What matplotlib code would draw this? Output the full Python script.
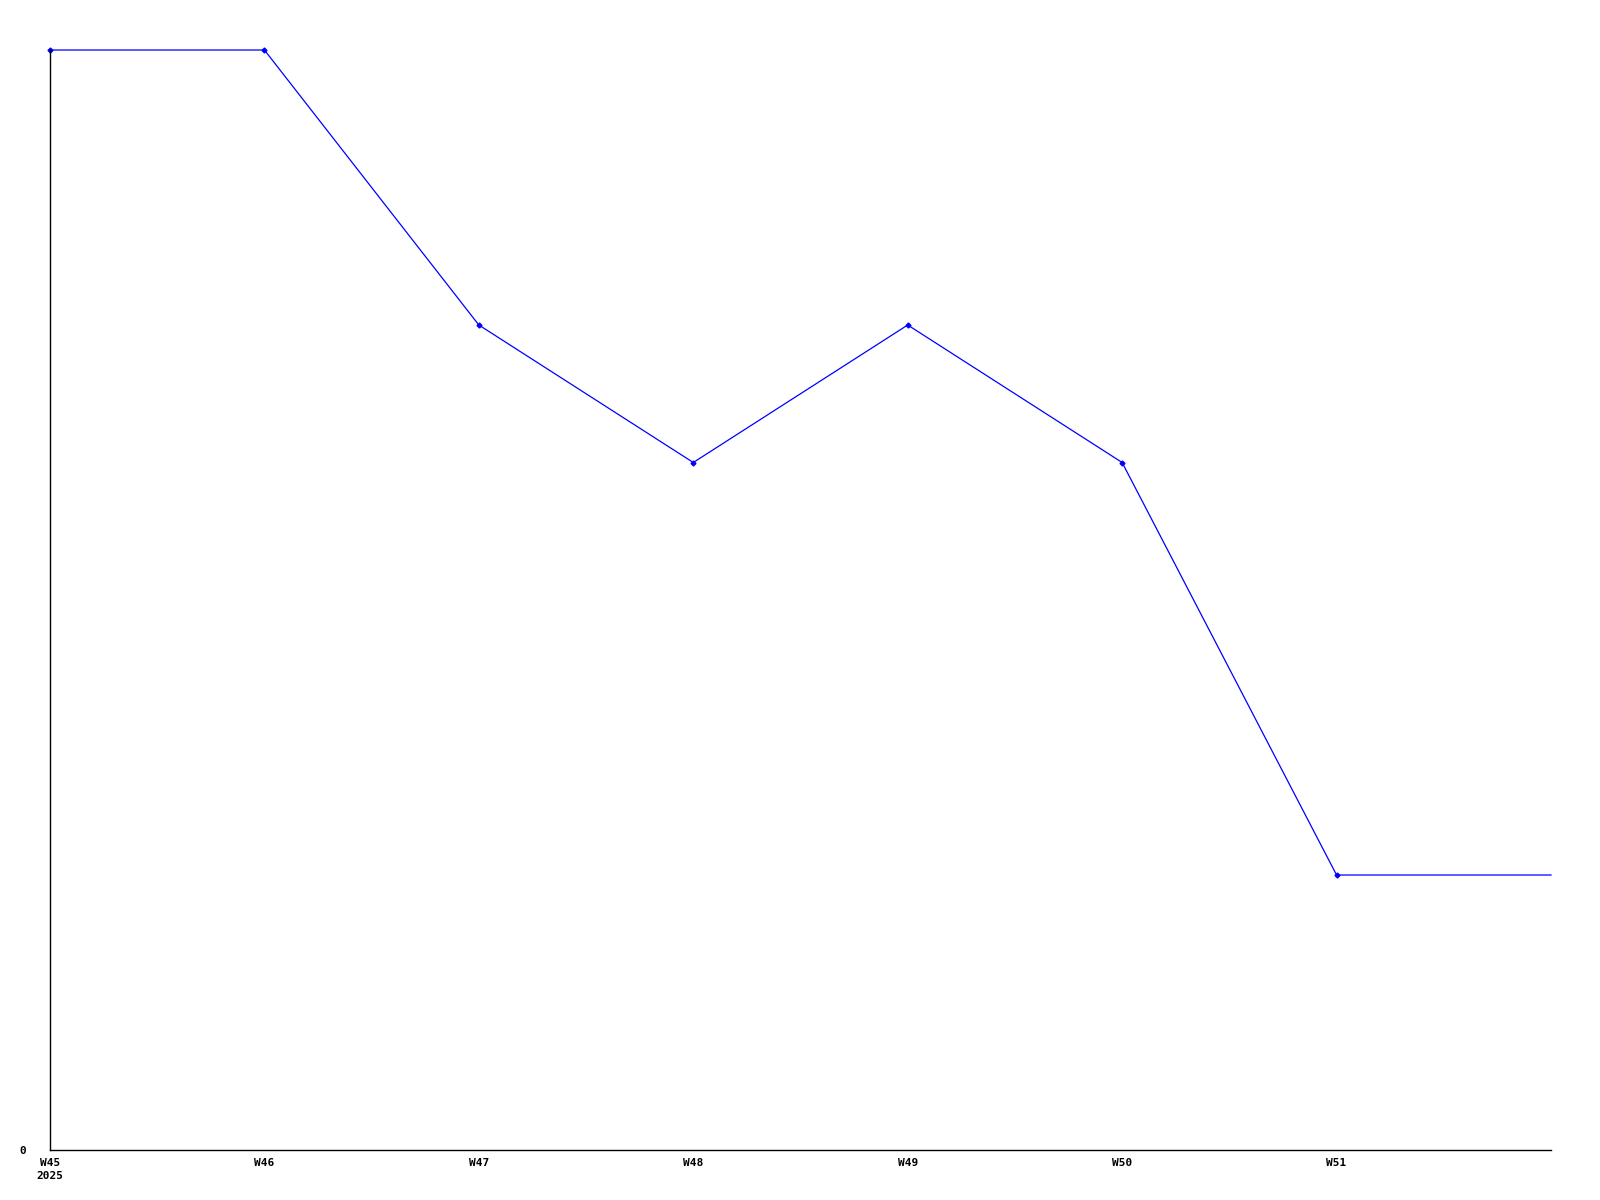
import matplotlib
matplotlib.use("Agg")
import matplotlib.pyplot as plt

weeks = ["W45\n2025", "W46", "W47", "W48", "W49", "W50", "W51", "W52"]
values = [8, 8, 6, 5, 6, 5, 2, 2]
tick_labels = ["W45\n2025", "W46", "W47", "W48", "W49", "W50", "W51"]

fig = plt.figure(figsize=(16, 12), dpi=100)
ax = fig.add_axes([50/1600, 50/1200, (1551-50)/1600, 1100/1200])

x = list(range(len(values)))
ax.plot(x, values, color="#0000ff", linewidth=0.9,
        marker="D", markersize=2.5, markevery=list(range(7)), clip_on=False)

ax.set_xlim(0, 7)
ax.set_ylim(0, 8)
ax.set_xticks(range(len(tick_labels)))
ax.set_xticklabels(tick_labels, fontfamily="DejaVu Sans Mono", fontweight="bold",
                   fontsize=8, linespacing=1.45)
ax.set_yticks([0])
ax.set_yticklabels(["0"], fontfamily="DejaVu Sans Mono", fontweight="bold", fontsize=8)
ax.tick_params(axis="both", length=0)
ax.tick_params(axis="x", pad=5.5)
ax.tick_params(axis="y", pad=17)

for s in ["top", "right"]:
    ax.spines[s].set_visible(False)
for s in ["left", "bottom"]:
    ax.spines[s].set_linewidth(1.0)
    ax.spines[s].set_color("black")

fig.savefig("out.png", dpi=100)
